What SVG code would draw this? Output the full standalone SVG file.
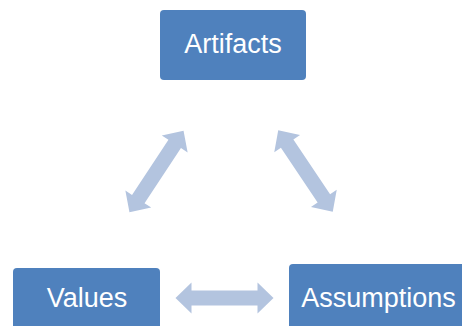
<svg xmlns="http://www.w3.org/2000/svg" width="462" height="326" viewBox="0 0 462 326">
<style>
.box{fill:#4F81BD;}
.lbl{font-family:"Liberation Sans",Arial,sans-serif;font-size:27px;fill:#FFFFFF;text-anchor:middle;}
.arr{fill:#B3C4DF;}
</style>
<defs>
<path id="dbl" d="M -49,0 L -33,-15.5 L -33,-7.5 L 33,-7.5 L 33,-15.5 L 49,0 L 33,15.5 L 33,7.5 L -33,7.5 L -33,15.5 Z"/>
</defs>
<rect width="462" height="326" fill="#FFFFFF"/>
<g id="connectors">
<use href="#dbl" class="arr" transform="translate(156.5,171.5) rotate(-56.5)"/>
<use href="#dbl" class="arr" transform="translate(305.5,171) rotate(56.2)"/>
<use href="#dbl" class="arr" transform="translate(224.5,298)"/>
</g>
<g id="artifacts">
<rect class="box" x="160" y="10" width="146" height="70" rx="4"/>
<text class="lbl" x="233" y="53">Artifacts</text>
</g>
<g id="values">
<rect class="box" x="13" y="268" width="147" height="70" rx="4"/>
<text class="lbl" x="87" y="306.5">Values</text>
</g>
<g id="assumptions">
<rect class="box" x="289" y="264" width="180" height="70" rx="4"/>
<text class="lbl" x="378.5" y="306.5">Assumptions</text>
</g>
</svg>
